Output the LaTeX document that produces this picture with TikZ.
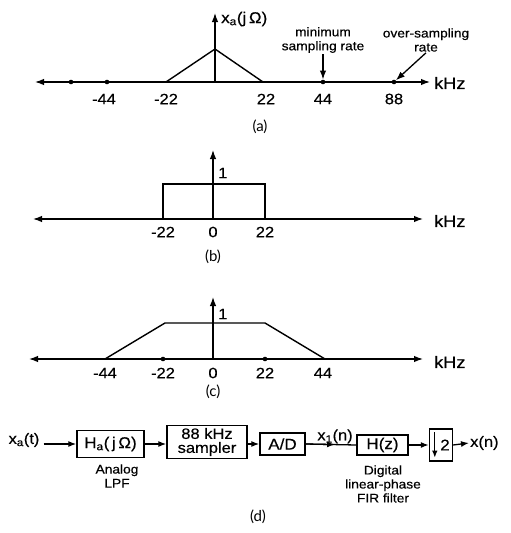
\documentclass[tikz,border=0pt]{standalone}
\usepackage{fontspec}
\setmainfont{Liberation Sans}[FakeStretch=1.1,FakeBold=0.4]
\newfontfamily\capfont{Lato}
\usetikzlibrary{arrows.meta,positioning,calc}

\begin{document}
\begin{tikzpicture}[
  x=1pt, y=-1pt,
  font=\fontsize{14}{15}\selectfont,
  axis/.style={line width=1.3pt, {Latex[length=9pt,width=6.5pt]}-{Latex[length=9pt,width=6.5pt]}},
  yaxis/.style={line width=1.3pt, -{Latex[length=9pt,width=6.5pt]}},
  curve/.style={line width=1.4pt},
  tick/.style={circle, fill=black, inner sep=0pt, minimum size=4.6pt},
  num/.style={font=\fontsize{15}{16}\selectfont, inner sep=1pt},
  unit/.style={font=\fontsize{16.5}{17}\selectfont, inner sep=1pt},
  note/.style={font=\fontsize{12.5}{14}\selectfont, align=center, inner sep=1pt},
  caption/.style={font=\capfont\fontsize{15}{16}\selectfont},
  block/.style={draw, line width=1.4pt, inner sep=0pt, align=center, font=\fontsize{15.5}{16}\selectfont},
  sig/.style={line width=1.3pt, -{Latex[length=8pt,width=6pt]}},
  pointer/.style={line width=1.3pt, -{Latex[length=9pt,width=6.5pt]}}
]
\useasboundingbox (0,0) rectangle (511,533);

% (a) spectrum of the input
\coordinate (aW) at (35,82);
\coordinate (aE) at (430,82);
\coordinate (aO) at (215,82);
\coordinate (aY) at (215,13);
\draw[axis] (aW) -- (aE);
\draw[yaxis] (aO) -- (aY);
\draw[curve] (166,82) -- (215,49) -- (263,82);
\node[unit, anchor=west] (akhz) at (433,83) {kHz};
\node[num, anchor=west, font=\fontsize{15.5}{16}\selectfont] (alab) at (220,19) {x\textsubscript{a}(j\,Ω)};
\foreach \x/\id in {71/m88,107/m44,323/p44,394/p88}
  \node[tick] (a\id) at (\x,82) {};
\foreach \x/\t in {104/-44,166/-22,266/22,323/44,394/88}
  \node[num] at (\x,99) {\t};
\node[note] (amin) at (323,40) {minimum\\sampling rate};
\node[note] (aover) at (426,40) {over-sampling\\rate};
\draw[pointer] (amin) -- (ap44);
\draw[pointer] (aover.south) -- (ap88);
\node[caption] (capa) at (260,127) {(a)};

% (b) ideal analog LPF
\coordinate (bW) at (33,219);
\coordinate (bE) at (423,219);
\coordinate (bO) at (213,219);
\coordinate (bY) at (213,150);
\draw[axis] (bW) -- (bE);
\draw[yaxis] (bO) -- (bY);
\draw[curve] (163,219) -- (163,184) -- (265,184) -- (265,219);
\node[num, anchor=west] (bone) at (217,173) {1};
\node[unit, anchor=west] (bkhz) at (433,221) {kHz};
\foreach \x/\t in {163/-22,213/0,265/22}
  \node[num] at (\x,232) {\t};
\node[caption] (capb) at (213,257) {(b)};

% (c) relaxed analog LPF
\coordinate (cW) at (29,359);
\coordinate (cE) at (423,359);
\coordinate (cO) at (213,359);
\coordinate (cY) at (213,297);
\draw[axis] (cW) -- (cE);
\draw[yaxis] (cO) -- (cY);
\draw[curve] (105,359) -- (165,323) -- (265,323) -- (325,359);
\foreach \x/\id in {163/m22,265/p22}
  \node[tick] (c\id) at (\x,359) {};
\node[num, anchor=west] (cone) at (217,314) {1};
\node[unit, anchor=west] (ckhz) at (433,362) {kHz};
\foreach \x/\t in {105/-44,163/-22,213/0,265/22,323/44}
  \node[num] at (\x,373) {\t};
\node[caption] (capc) at (213,392) {(c)};

% (d) over-sampling A/D chain
\node[num, font=\fontsize{15}{16}\selectfont] (xa) at (24,440) {x\textsubscript{a}(t)};
\node[block, minimum width=67pt, minimum height=27pt] (ha) at (110.5,444) {H\textsubscript{a}(\,j\,Ω)};
\node[block, minimum width=80pt, minimum height=33pt, font=\fontsize{15}{14}\selectfont] (smp) at (207,442) {88 kHz\\sampler};
\node[block, minimum width=45pt, minimum height=22pt] (ad) at (282.5,444) {A/D};
\node[block, minimum width=51pt, minimum height=20pt] (hz) at (382.5,445) {H(z)};
\node[block, minimum width=23pt, minimum height=32pt] (dn) at (441,445) {\hspace{8pt}2};
\node[num, anchor=west, font=\fontsize{15}{16}\selectfont] (xn) at (469,443) {x(n)};
\draw[-{Latex[length=7pt,width=5.5pt]}, line width=1.3pt] ($(dn.north west)+(6,4)$) -- ($(dn.south west)+(6,-4)$);
\draw[sig] ([xshift=3pt]xa.east |- ha.west) -- (ha.west);
\draw[sig] (ha.east) -- (ha.east -| smp.west);
\draw[sig] (smp.east |- ad.west) -- (ad.west);
\draw[line width=1.3pt] (ad.east) -- (hz.west);
\draw[sig] (ad.east) -- ($(ad.east)!0.58!(hz.west)$) coordinate (mid);
\node[num, above=0pt of mid, font=\fontsize{15}{16}\selectfont] (xone) {x\textsubscript{1}(n)};
\draw[sig] (hz.east) -- (dn.west);
\draw[sig] (dn.east) -- (xn.west);
\node[note] (lpf) at (117,476) {Analog\\LPF};
\node[note] (fir) at (383,484) {Digital\\linear-phase\\FIR filter};
\node[caption] (capd) at (258,517) {(d)};
\end{tikzpicture}
\end{document}
